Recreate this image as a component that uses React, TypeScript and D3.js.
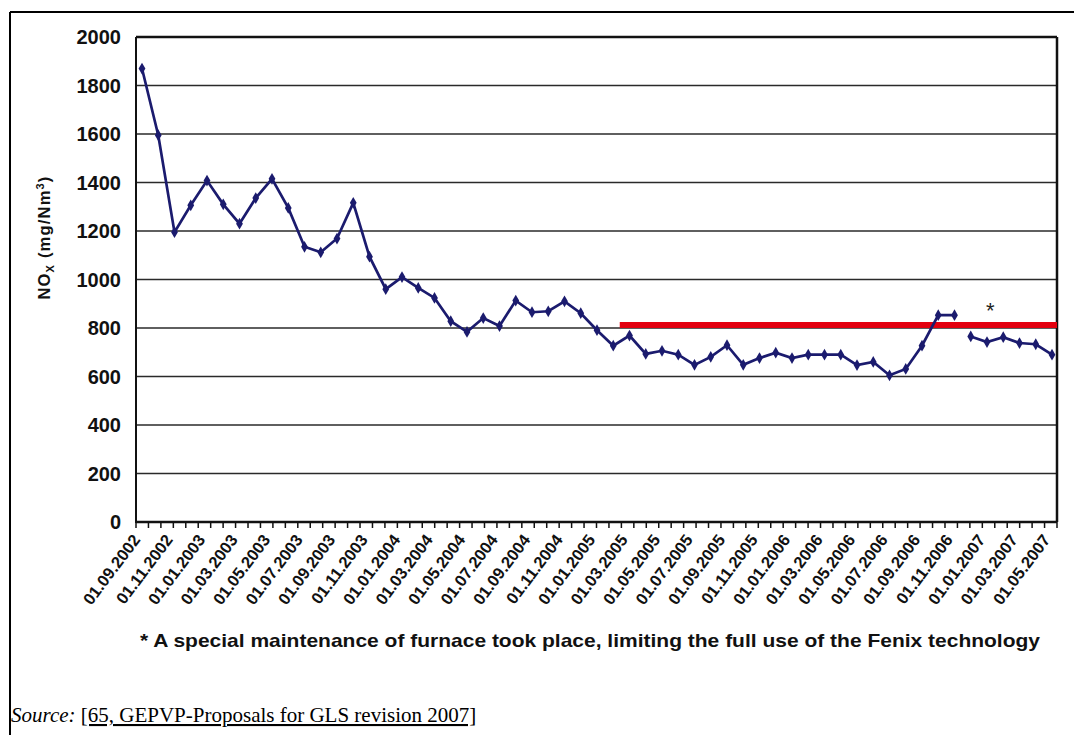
import React from "react";
import * as d3 from "d3";

// Monthly NOx values, 01.09.2002 .. 01.05.2007 (57 months)
const noxValues: number[] = [
  1870, 1595, 1195, 1306, 1408, 1310, 1230, 1336, 1415, 1295,
  1135, 1112, 1169, 1316, 1094, 960, 1010, 965, 924, 828,
  784, 841, 808, 913, 865, 869, 910, 861, 791, 727,
  769, 693, 706, 690, 648, 681, 729, 648, 676, 698,
  676, 690, 690, 690, 647, 660, 605, 631, 727, 853,
  853, 765, 742, 762, 738, 733, 690,
];
// line is broken after this month index (maintenance period)
const breakAfterIndex = 50;

// Tick labels, every second month
const xTickLabels: string[] = [
  "01.09.2002", "01.11.2002", "01.01.2003", "01.03.2003", "01.05.2003",
  "01.07.2003", "01.09.2003", "01.11.2003", "01.01.2004", "01.03.2004",
  "01.05.2004", "01.07.2004", "01.09.2004", "01.11.2004", "01.01.2005",
  "01.03.2005", "01.05.2005", "01.07.2005", "01.09.2005", "01.11.2005",
  "01.01.2006", "01.03.2006", "01.05.2006", "01.07.2006", "01.09.2006",
  "01.11.2006", "01.01.2007", "01.03.2007", "01.05.2007",
];
const yTicks: number[] = [0, 200, 400, 600, 800, 1000, 1200, 1400, 1600, 1800, 2000];

// Red reference level line
const limitValue = 812;
const limitStartIndex = 29.4;
const minorTickCount = 75;

const footnote =
  "* A special maintenance of furnace took place, limiting the full use of the Fenix technology";

export default function App() {
  const W = 1074;
  const H = 735;
  const plotL = 136;
  const plotR = 1057;
  const plotT = 37;
  const plotB = 522;

  const y = d3.scaleLinear().domain([0, 2000]).range([plotB, plotT]);
  const x = d3.scaleLinear().domain([0, noxValues.length - 1]).range([142, 1052]);
  const tickScale = d3.scaleLinear().domain([0, minorTickCount - 1]).range([plotL, plotR]);

  const pts = noxValues.map((v, i) => ({ i, v }));
  const seg1 = pts.filter((p) => p.i <= breakAfterIndex);
  const seg2 = pts.filter((p) => p.i > breakAfterIndex);
  const line = d3
    .line<{ i: number; v: number }>()
    .x((d) => x(d.i))
    .y((d) => y(d.v));
  const diamond = d3.symbol().type(d3.symbolDiamond).size(40)() as string;

  const sans = "'Liberation Sans', Arial, sans-serif";
  const serif = "'Liberation Serif', 'Times New Roman', serif";
  const lineColor = "#1b1b6e";

  return (
    <svg
      width={W}
      height={H}
      style={{ position: "absolute", left: 0, top: 0, background: "#fff" }}
    >
      {/* outer frame (top + left visible) */}
      <line x1={10} y1={12} x2={W} y2={12} stroke="#000" strokeWidth={2} />
      <line x1={10} y1={12} x2={10} y2={H} stroke="#000" strokeWidth={2} />

      {/* grid lines */}
      {yTicks.map((t) =>
        t === 0 ? null : (
          <line
            key={"g" + t}
            x1={plotL}
            x2={plotR}
            y1={y(t)}
            y2={y(t)}
            stroke={t === 2000 ? "#111" : "#2a2a2a"}
            strokeWidth={t === 2000 ? 2.5 : 1.6}
          />
        )
      )}
      {/* plot frame */}
      <line x1={plotR} x2={plotR} y1={plotT} y2={plotB} stroke="#111" strokeWidth={2.5} />
      <line x1={plotL} x2={plotL} y1={plotT} y2={plotB + 1} stroke="#111" strokeWidth={2} />
      <line x1={plotL} x2={plotR} y1={plotB} y2={plotB} stroke="#111" strokeWidth={2.5} />
      {d3.range(minorTickCount).map((k) => (
        <line
          key={"mt" + k}
          x1={tickScale(k)}
          x2={tickScale(k)}
          y1={plotB}
          y2={plotB + 6}
          stroke="#111"
          strokeWidth={1.5}
        />
      ))}

      {/* y tick labels */}
      {yTicks.map((t) => (
        <text
          key={"yl" + t}
          x={121}
          y={y(t)}
          dy="0.36em"
          textAnchor="end"
          fontFamily={sans}
          fontWeight="bold"
          fontSize={20}
          fill="#111"
        >
          {t}
        </text>
      ))}

      {/* y title */}
      <text
        transform={`translate(50,${(plotT + plotB) / 2 - 42}) rotate(-90)`}
        textAnchor="middle"
        fontFamily={sans}
        fontWeight="bold"
        fontSize={16.5}
        letterSpacing={1.2}
        fill="#111"
      >
        NO
        <tspan fontSize={11} dy={4}>X</tspan>
        <tspan dy={-4}> (mg/Nm</tspan>
        <tspan fontSize={11} dy={-6}>3</tspan>
        <tspan dy={6}>)</tspan>
      </text>

      {/* red level line */}
      <line
        x1={x(limitStartIndex)}
        x2={plotR}
        y1={y(limitValue)}
        y2={y(limitValue)}
        stroke="#e3000f"
        strokeWidth={6}
      />

      {/* data line */}
      <path d={line(seg1) || ""} fill="none" stroke={lineColor} strokeWidth={2.7} />
      <path d={line(seg2) || ""} fill="none" stroke={lineColor} strokeWidth={2.7} />
      {pts.map((p) => (
        <path
          key={"m" + p.i}
          d={diamond}
          transform={`translate(${x(p.i)},${y(p.v)})`}
          fill={lineColor}
        />
      ))}

      {/* asterisk */}
      <text x={x(52.2)} y={y(853) + 3} textAnchor="middle" fontFamily={sans} fontSize={22} fill="#222">
        *
      </text>

      {/* x tick labels */}
      {xTickLabels.map((lab, k) => (
        <text
          key={"xl" + k}
          transform={`translate(${x(k * 2) - 1},${plotB + 18}) rotate(-53)`}
          textAnchor="end"
          fontFamily={sans}
          fontWeight="bold"
          fontSize={16.5}
          fill="#111"
        >
          {lab}
        </text>
      ))}

      {/* footnote */}
      <text
        x={590}
        y={647}
        textAnchor="middle"
        fontFamily={sans}
        fontWeight="bold"
        fontSize={19}
        textLength={900}
        lengthAdjust="spacingAndGlyphs"
        fill="#111"
      >
        {footnote}
      </text>

      {/* source */}
      <text x={11} y={722} fontFamily={serif} fontSize={21} fill="#000">
        <tspan fontStyle="italic">Source:</tspan>
        <tspan> </tspan>
        <tspan textDecoration="underline">[65, GEPVP-Proposals for GLS revision 2007]</tspan>
      </text>
    </svg>
  );
}
